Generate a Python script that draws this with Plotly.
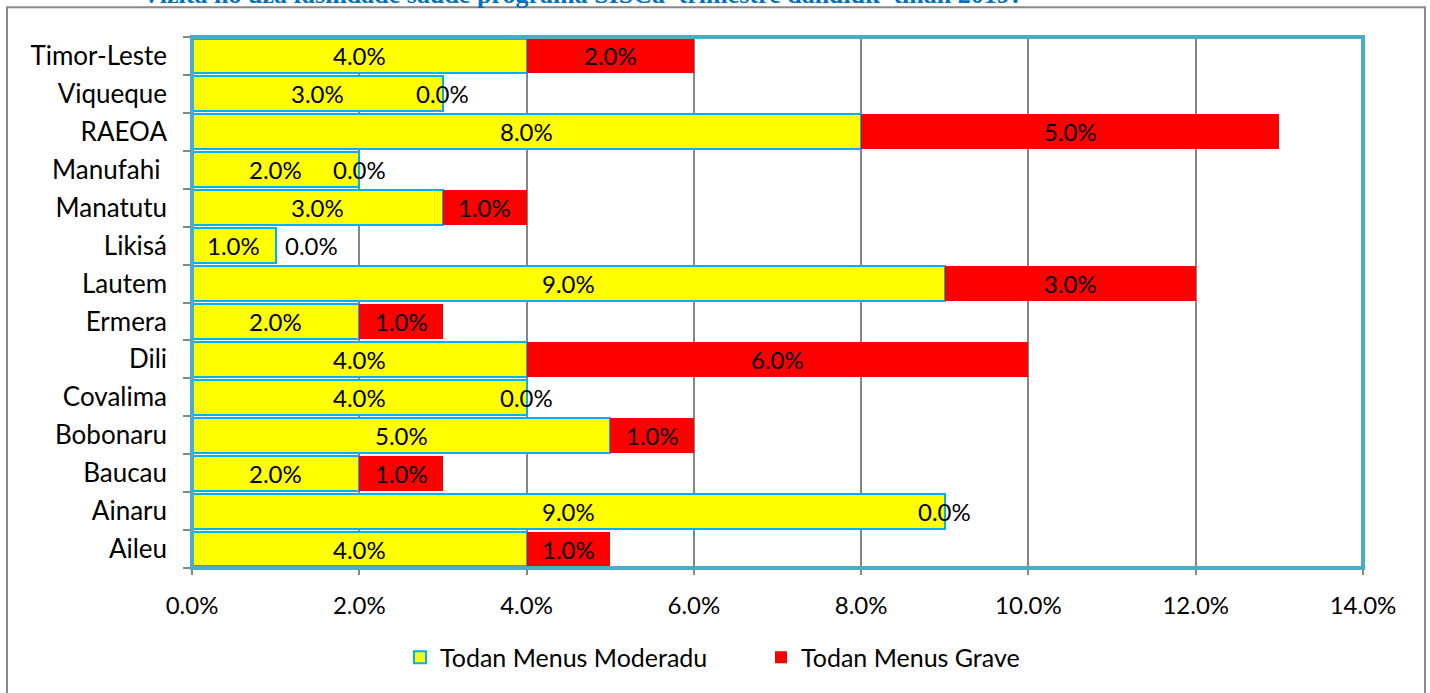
import plotly.graph_objects as go

categories = ["Aileu", "Ainaru", "Baucau", "Bobonaru", "Covalima", "Dili", "Ermera",
              "Lautem", "Likisá", "Manatutu", "Manufahi ", "RAEOA", "Viqueque", "Timor-Leste"]
moderadu = [4.0, 9.0, 2.0, 5.0, 4.0, 4.0, 2.0, 9.0, 1.0, 3.0, 2.0, 8.0, 3.0, 4.0]
grave = [1.0, 0.0, 1.0, 1.0, 0.0, 6.0, 1.0, 3.0, 0.0, 1.0, 0.0, 5.0, 0.0, 2.0]
x_ticks = [0, 2, 4, 6, 8, 10, 12, 14]
x_tick_labels = ["0.0%", "2.0%", "4.0%", "6.0%", "8.0%", "10.0%", "12.0%", "14.0%"]
title_text = "Vizita ho uza fasilidade saude programa SISCa' trimestre dahuluk' tinan 2019?"

W, H = 1430, 693
L, R, T, B = 192, 67, 37, 122
pw, ph = W - L - R, H - T - B

def px_x(p):
    return (p - L) / pw

def px_y(p):
    return 1 - (p - T) / ph

FONT = "Lato"
LBL = 24

fig = go.Figure()
fig.add_trace(go.Bar(
    y=categories, x=moderadu, orientation="h", name="Todan Menus Moderadu",
    marker=dict(color="#FFFF00", line=dict(color="#00B0F0", width=2)),
))
fig.add_trace(go.Bar(
    y=categories, x=grave, orientation="h", name="Todan Menus Grave",
    marker=dict(color="#FF0000", line=dict(color="#FF0000", width=0)),
))

annotations = []
label_shift = {"Likisá": 36}
for c, m, g in zip(categories, moderadu, grave):
    annotations.append(dict(x=m / 2, y=c, xref="x", yref="y", text=f"{m:.1f}%",
                            showarrow=False, font=dict(family=FONT, size=LBL, color="black")))
    annotations.append(dict(x=m + g / 2, y=c, xref="x", yref="y", text=f"{g:.1f}%",
                            showarrow=False, xshift=label_shift.get(c, 0) if g == 0 else 0,
                            font=dict(family=FONT, size=LBL, color="black")))

annotations.append(dict(x=px_x(140), y=px_y(11), xref="paper", yref="paper",
                        xanchor="left", yanchor="bottom", text="<b>" + title_text + "</b>",
                        showarrow=False,
                        font=dict(family="Liberation Serif", size=26, color="#0070C0")))

shapes = [
    dict(type="rect", xref="paper", yref="paper", x0=px_x(7), x1=px_x(1425),
         y0=px_y(7), y1=px_y(720), line=dict(color="#898989", width=2), layer="below"),
    dict(type="rect", xref="paper", yref="paper", x0=0, x1=1, y0=0, y1=1,
         line=dict(color="#4BACC6", width=4), layer="above"),
]

fig.update_layout(
    width=W, height=H,
    margin=dict(l=L, r=R, t=T, b=B, pad=0),
    paper_bgcolor="white", plot_bgcolor="white",
    barmode="stack", bargap=0.08,
    font=dict(family=FONT, size=LBL, color="black"),
    xaxis=dict(range=[0, 14], tickvals=x_ticks, ticktext=x_tick_labels,
               showgrid=True, gridcolor="#868686", gridwidth=1.5,
               ticks="outside", ticklen=6, tickcolor="#868686", tickwidth=1.5,
               zeroline=False, showline=False, fixedrange=True,
               tickfont=dict(family=FONT, size=24), ticklabelstandoff=10),
    yaxis=dict(type="category", categoryorder="array", categoryarray=categories,
               tickson="boundaries", ticks="outside", ticklen=7, tickcolor="#868686",
               tickwidth=1.5, showgrid=False, showline=True, linecolor="#868686",
               linewidth=1.5, fixedrange=True, range=[-0.5, 13.5],
               tickfont=dict(family=FONT, size=26), ticklabelstandoff=18),
    legend=dict(orientation="h", x=px_x(400), y=px_y(661), xanchor="left", yanchor="middle",
                font=dict(family=FONT, size=25), traceorder="normal",
                itemwidth=30, entrywidthmode="pixels", entrywidth=316),
    annotations=annotations,
    shapes=shapes,
    showlegend=True,
)

fig.write_html("out.html", config={"displayModeBar": False},
               post_script="document.body.style.margin='0';document.body.style.overflow='hidden';")
